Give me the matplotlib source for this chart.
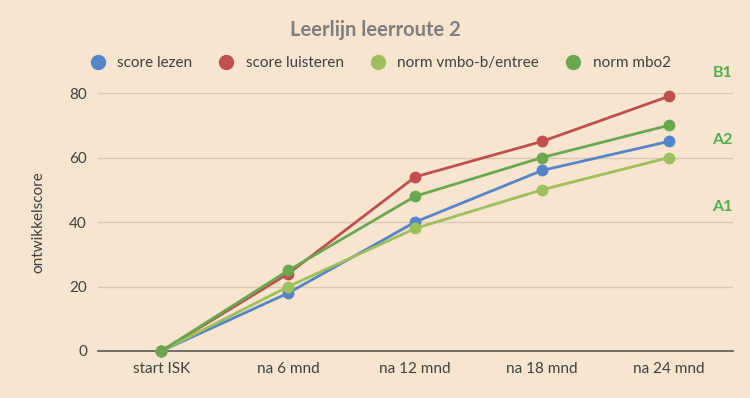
import matplotlib
matplotlib.use('Agg')
import matplotlib.pyplot as plt
from matplotlib.lines import Line2D

plt.rcParams['font.family'] = ['Lato', 'DejaVu Sans']

categories = ['start ISK', 'na 6 mnd', 'na 12 mnd', 'na 18 mnd', 'na 24 mnd']
score_lezen = [0, 18, 40, 56, 65]
score_luisteren = [0, 24, 54, 65, 79]
norm_vmbo = [0, 20, 38, 50, 60]
norm_mbo2 = [0, 25, 48, 60, 70]

levels = ['B1', 'A2', 'A1']

BG = '#f8e5cf'
series = [
    ('score lezen', score_lezen, '#5585c8'),
    ('score luisteren', score_luisteren, '#bf504d'),
    ('norm vmbo-b/entree', norm_vmbo, '#9dc05c'),
    ('norm mbo2', norm_mbo2, '#6aa84f'),
]

fig = plt.figure(figsize=(7.5, 3.98), dpi=100)
fig.patch.set_facecolor(BG)
ax = fig.add_axes([0.1307, 0.1181, 0.846, 0.6482])
ax.set_facecolor(BG)

x = range(len(categories))
for name, vals, col in series:
    ax.plot(x, vals, color=col, lw=2, marker='o', ms=7.5, clip_on=False,
            zorder=3, label=name)

ax.set_xlim(-0.5, len(categories) - 0.5)
ax.set_ylim(0, 80)
ax.set_yticks([0, 20, 40, 60, 80])
ax.set_xticks(list(x))
ax.set_xticklabels(categories)
ax.grid(axis='y', color='#d8c8b4', lw=1)
ax.set_axisbelow(True)
for s in ['top', 'right', 'left']:
    ax.spines[s].set_visible(False)
ax.spines['bottom'].set_color('#595959')
ax.spines['bottom'].set_linewidth(1.2)
ax.tick_params(length=0, colors='#404040', labelsize=11, pad=8)
ax.set_ylabel('ontwikkelscore', color='#404040', fontsize=11, labelpad=17)

fig.text(0.5, 0.925, 'Leerlijn leerroute 2', ha='center', va='center',
         fontsize=14.5, fontweight='bold', color='#7f7f7f')

# legend: markers only
handles = [Line2D([], [], ls='', marker='o', ms=10, color=c) for _, _, c in series]
fig.legend(handles, [s[0] for s in series], loc='center', ncol=4,
           bbox_to_anchor=(0.502, 0.842), frameon=False, fontsize=11,
           labelcolor='#404040', handletextpad=0.3, columnspacing=1.2)

for lab, ypix in zip(levels, [73, 140, 207]):
    fig.text(0.963, 1 - ypix / 398, lab, ha='center', va='center',
             fontsize=11.5, fontweight='bold', color='#4fae4f')

fig.savefig('out.png', dpi=100, facecolor=BG)
